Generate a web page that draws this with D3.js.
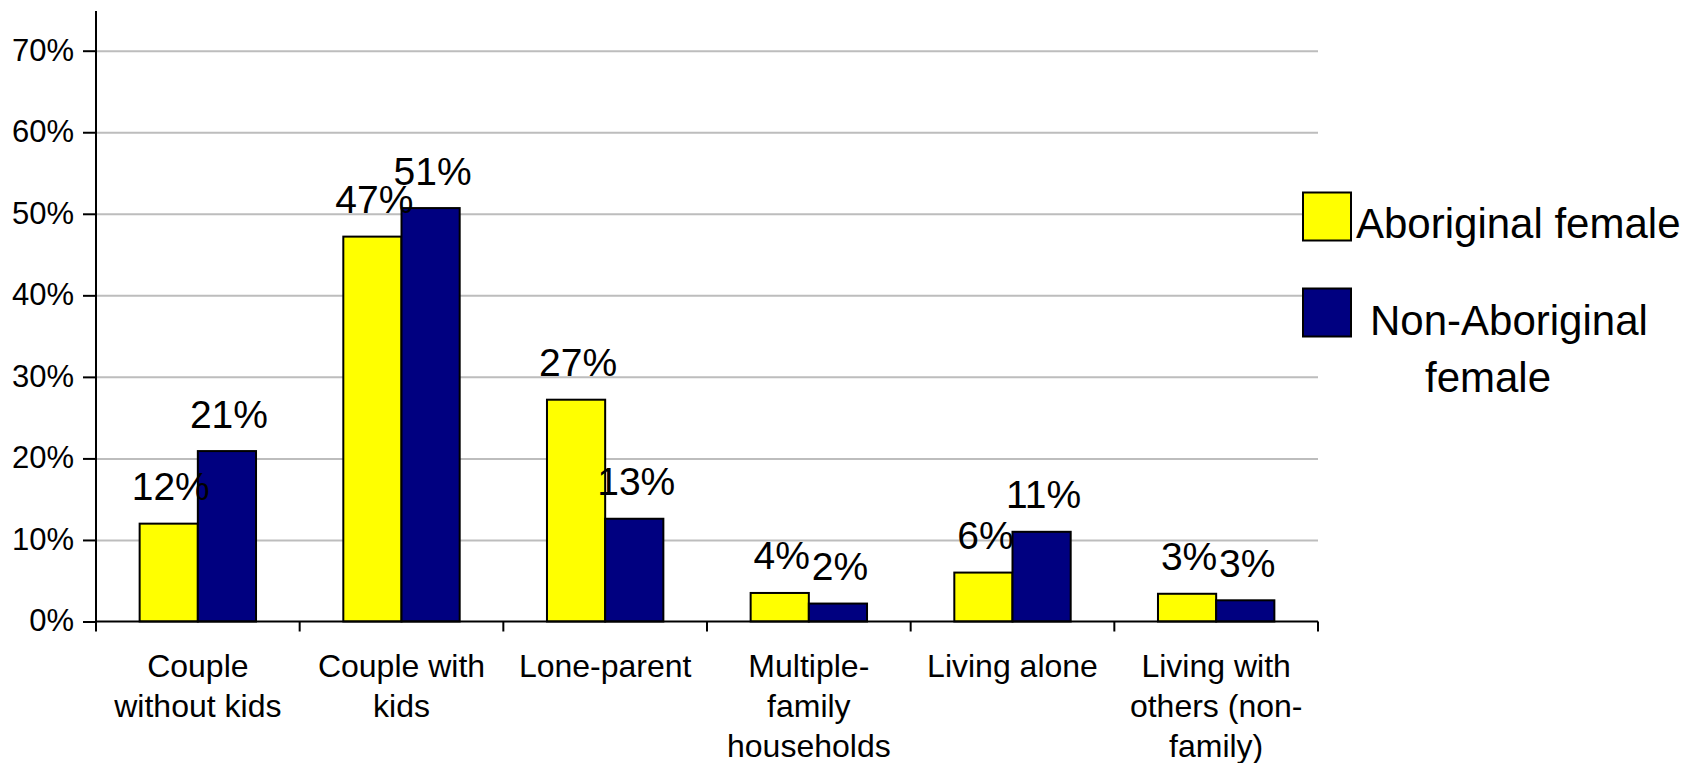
<!DOCTYPE html>
<html>
<head>
<meta charset="utf-8">
<script src="https://cdn.jsdelivr.net/npm/d3@7"></script>
<style>
  html, body { margin: 0; padding: 0; background: #fff; }
  svg { display: block; font-family: Arial, "Liberation Sans", sans-serif; }
</style>
</head>
<body>
<svg id="chart" width="1689" height="763"></svg>
<script>
const categories = [
  ["Couple", "without kids"],
  ["Couple with", "kids"],
  ["Lone-parent"],
  ["Multiple-", "family", "households"],
  ["Living alone"],
  ["Living with", "others (non-", "family)"]
];
const categoryKeys = ["cwk", "cwith", "lone", "multi", "alone", "others"];
const seriesNames = ["Aboriginal female", "Non-Aboriginal female"];
const aboriginal = [12.0, 47.2, 27.2, 3.5, 6.0, 3.4];
const nonAboriginal = [20.9, 50.7, 12.6, 2.2, 11.0, 2.6];
const aboriginalLabels = ["12%", "47%", "27%", "4%", "6%", "3%"];
const nonAboriginalLabels = ["21%", "51%", "13%", "2%", "11%", "3%"];
const yTicks = [0, 10, 20, 30, 40, 50, 60, 70];
const colors = ["#FFFF00", "#000080"];

const svg = d3.select("#chart");
const plotLeft = 96, plotRight = 1318, plotTop = 50.7, plotBottom = 621.5;

const x0 = d3.scaleBand().domain(categoryKeys).range([plotLeft, plotRight]).padding(0);
const x1 = d3.scaleBand().domain([0, 1]).range([0, x0.bandwidth()]).paddingInner(0).paddingOuter(0.75);
const y = d3.scaleLinear().domain([0, 70]).range([plotBottom, plotTop]);

// gridlines
svg.append("g")
  .attr("transform", `translate(${plotLeft},0)`)
  .call(d3.axisLeft(y).tickValues(yTicks.slice(1)).tickSize(-(plotRight - plotLeft)).tickFormat(""))
  .call(g => g.select(".domain").remove())
  .call(g => g.selectAll("line").attr("stroke", "#BDBDBD").attr("stroke-width", 2));

const series = [aboriginal, nonAboriginal];
const labels = [aboriginalLabels, nonAboriginalLabels];

// bars
series.forEach((vals, si) => {
  svg.append("g").selectAll("rect")
    .data(vals)
    .join("rect")
    .attr("x", (d, i) => x0(categoryKeys[i]) + x1(si))
    .attr("y", d => y(d))
    .attr("width", x1.bandwidth())
    .attr("height", d => y(0) - y(d))
    .attr("fill", colors[si])
    .attr("stroke", "#000")
    .attr("stroke-width", 2);
});

// y axis
const yAxis = svg.append("g")
  .attr("transform", `translate(${plotLeft},0)`)
  .call(d3.axisLeft(y).tickValues(yTicks).tickSize(13).tickPadding(9).tickFormat(d => d + "%"));
yAxis.select(".domain").remove();
yAxis.selectAll("line").attr("stroke", "#000").attr("stroke-width", 2);
yAxis.selectAll("text").attr("font-size", 31).attr("fill", "#000").attr("dy", "0.3em")
  .attr("font-family", "Arial, 'Liberation Sans', sans-serif");
svg.append("line").attr("x1", plotLeft).attr("x2", plotLeft).attr("y1", 11).attr("y2", plotBottom)
  .attr("stroke", "#000").attr("stroke-width", 2);

// x axis
svg.append("line").attr("x1", plotLeft).attr("x2", plotRight).attr("y1", plotBottom).attr("y2", plotBottom)
  .attr("stroke", "#000").attr("stroke-width", 2);
const boundaries = categoryKeys.map(k => x0(k)).concat([plotRight]);
svg.append("g").selectAll("line").data(boundaries).join("line")
  .attr("x1", d => d).attr("x2", d => d).attr("y1", plotBottom).attr("y2", plotBottom + 10)
  .attr("stroke", "#000").attr("stroke-width", 2);

// category labels
const catG = svg.append("g").attr("font-size", 32).attr("text-anchor", "middle").attr("fill", "#000");
categories.forEach((lines, i) => {
  const cx = x0(categoryKeys[i]) + x0.bandwidth() / 2;
  const t = catG.append("text").attr("x", cx).attr("y", 677);
  lines.forEach((ln, j) => {
    t.append("tspan").attr("x", cx).attr("y", 677 + j * 40).text(ln);
  });
});

// data labels
series.forEach((vals, si) => {
  svg.append("g").selectAll("text")
    .data(vals)
    .join("text")
    .attr("x", (d, i) => x0(categoryKeys[i]) + x1(si) + x1.bandwidth() / 2 + 2)
    .attr("y", d => y(d) - 23.5)
    .attr("text-anchor", "middle")
    .attr("font-size", 39)
    .attr("fill", "#000")
    .text((d, i) => labels[si][i]);
});

// legend
const lg = svg.append("g");
lg.append("rect").attr("x", 1303).attr("y", 192.5).attr("width", 48).attr("height", 48)
  .attr("fill", colors[0]).attr("stroke", "#000").attr("stroke-width", 2);
lg.append("rect").attr("x", 1303).attr("y", 288.5).attr("width", 48).attr("height", 48)
  .attr("fill", colors[1]).attr("stroke", "#000").attr("stroke-width", 2);
lg.append("text").attr("x", 1356).attr("y", 238).attr("font-size", 42).attr("fill", "#000")
  .text(seriesNames[0]);
const t2 = lg.append("text").attr("font-size", 42).attr("fill", "#000");
t2.append("tspan").attr("x", 1370).attr("y", 335).text("Non-Aboriginal");
t2.append("tspan").attr("x", 1425).attr("y", 392).text("female");
</script>
</body>
</html>
